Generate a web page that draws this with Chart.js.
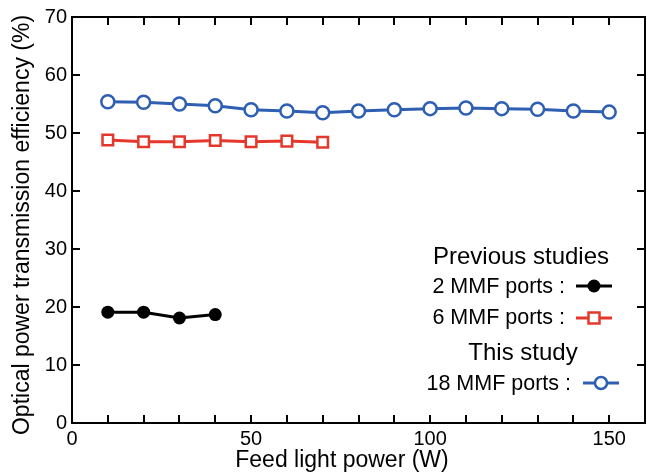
<!DOCTYPE html>
<html><head><meta charset="utf-8">
<script src="https://cdn.jsdelivr.net/npm/chart.js@4.4.1/dist/chart.umd.min.js"></script>
<style>html,body{margin:0;padding:0;background:#fff}#wrap{width:655px;height:472px}canvas{display:block}</style>
</head><body><div id="wrap"><canvas id="c" width="655" height="472"></canvas></div>
<script>
// ---- data ----
const powerTwoPorts = [10, 20, 30, 40];
const effTwoPorts = [19.1, 19.1, 18.1, 18.7];
const powerSixPorts = [10, 20, 30, 40, 50, 60, 70];
const effSixPorts = [48.8, 48.5, 48.5, 48.7, 48.5, 48.6, 48.4];
const powerEighteenPorts = [10, 20, 30, 40, 50, 60, 70, 80, 90, 100, 110, 120, 130, 140, 150];
const effEighteenPorts = [55.4, 55.3, 55.0, 54.7, 54.0, 53.8, 53.5, 53.8, 54.0, 54.2, 54.3, 54.2, 54.1, 53.8, 53.6];
const xLabelValues = [0, 50, 100, 150];
const yLabelValues = [0, 10, 20, 30, 40, 50, 60, 70];
const seriesNames = ['2 MMF ports :', '6 MMF ports :', '18 MMF ports :'];
const groupHeaders = ['Previous studies', 'This study'];
const xTitle = 'Feed light power (W)';
const yTitle = 'Optical power transmission efficiency (%)';

const BLUE = '#2e5fb2', RED = '#e5382c', BLACK = '#000000';
const FONT = '"Liberation Sans", Arial, sans-serif';

function pts(xs, ys) { return xs.map((x, i) => ({ x: x, y: ys[i] })); }

const frame = {
  id: 'frame',
  afterDraw(chart) {
    const ctx = chart.ctx, a = chart.chartArea;
    const xs = chart.scales.x, ys = chart.scales.y;
    ctx.save();
    ctx.strokeStyle = '#000'; ctx.lineWidth = 2;
    ctx.strokeRect(a.left, a.top, a.right - a.left, a.bottom - a.top);
    const L = 8;
    ctx.beginPath();
    xs.ticks.forEach(t => {
      const px = Math.round(xs.getPixelForValue(t.value));
      if (px <= a.left + 1 || px >= a.right - 1) return;
      ctx.moveTo(px, a.bottom); ctx.lineTo(px, a.bottom - L);
      ctx.moveTo(px, a.top); ctx.lineTo(px, a.top + L);
    });
    ys.ticks.forEach(t => {
      const py = Math.round(ys.getPixelForValue(t.value));
      if (py <= a.top + 1 || py >= a.bottom - 1) return;
      ctx.moveTo(a.left, py); ctx.lineTo(a.left + L, py);
      ctx.moveTo(a.right, py); ctx.lineTo(a.right - L, py);
    });
    ctx.stroke();

    // axis titles
    ctx.fillStyle = '#000';
    ctx.font = '23px ' + FONT;
    ctx.textAlign = 'center'; ctx.textBaseline = 'alphabetic';
    ctx.fillText(xTitle, 342, 467);
    ctx.save();
    ctx.translate(29, 225); ctx.rotate(-Math.PI / 2);
    ctx.fillText(yTitle, 0, 0);
    ctx.restore();

    // legend
    function marker(kind, cx, cy, color) {
      ctx.beginPath();
      ctx.strokeStyle = color; ctx.lineWidth = 3;
      ctx.moveTo(cx - 18, cy); ctx.lineTo(cx + 18, cy); ctx.stroke();
      ctx.lineWidth = 2.5;
      if (kind === 'dot') {
        ctx.beginPath(); ctx.arc(cx, cy, 6.5, 0, Math.PI * 2); ctx.fillStyle = color; ctx.fill();
      } else if (kind === 'sq') {
        ctx.fillStyle = '#fff'; ctx.fillRect(cx - 5.5, cy - 5.5, 11, 11); ctx.strokeRect(cx - 5.5, cy - 5.5, 11, 11);
      } else {
        ctx.beginPath(); ctx.arc(cx, cy, 6, 0, Math.PI * 2); ctx.fillStyle = '#fff'; ctx.fill(); ctx.stroke();
      }
    }
    ctx.fillStyle = '#000';
    ctx.textBaseline = 'middle';
    ctx.font = '24px ' + FONT; ctx.textAlign = 'center';
    ctx.fillText(groupHeaders[0], 521, 257);
    ctx.fillText(groupHeaders[1], 523, 353);
    ctx.font = '21.5px ' + FONT; ctx.textAlign = 'right';
    ctx.fillStyle = '#000'; ctx.fillText(seriesNames[0], 565, 287);
    ctx.fillStyle = '#000'; ctx.fillText(seriesNames[1], 565, 318);
    ctx.fillStyle = '#000'; ctx.fillText(seriesNames[2], 571, 384);
    marker('dot', 594, 286, BLACK);
    marker('sq', 594, 318, RED);
    marker('circ', 601, 383, BLUE);
    ctx.restore();
  }
};

new Chart(document.getElementById('c'), {
  type: 'scatter',
  data: {
    datasets: [
      { label: seriesNames[2], data: pts(powerEighteenPorts, effEighteenPorts), showLine: true,
        borderColor: BLUE, borderWidth: 3, pointStyle: 'circle', pointRadius: 6.5,
        pointBackgroundColor: '#fff', pointBorderColor: BLUE, pointBorderWidth: 2.5 },
      { label: seriesNames[1], data: pts(powerSixPorts, effSixPorts), showLine: true,
        borderColor: RED, borderWidth: 3, pointStyle: 'rect', pointRadius: 7.5,
        pointBackgroundColor: '#fff', pointBorderColor: RED, pointBorderWidth: 2.5 },
      { label: seriesNames[0], data: pts(powerTwoPorts, effTwoPorts), showLine: true,
        borderColor: BLACK, borderWidth: 3, pointStyle: 'circle', pointRadius: 6.5,
        pointBackgroundColor: BLACK, pointBorderColor: BLACK, pointBorderWidth: 0 }
    ]
  },
  options: {
    responsive: false, animation: false, devicePixelRatio: 1,
    layout: { padding: { left: 0, right: 8, top: 14, bottom: 0 } },
    plugins: { legend: { display: false }, tooltip: { enabled: false } },
    scales: {
      x: {
        type: 'linear', min: 0, max: 160,
        border: { display: false },
        grid: { display: false, drawTicks: false },
        ticks: { stepSize: 10, autoSkip: false, maxRotation: 0, padding: 4, color: '#000',
          font: { family: FONT, size: 20 },
          callback: v => xLabelValues.includes(v) ? String(v) : '' },
        afterFit: s => { s.height = 49; }
      },
      y: {
        type: 'linear', min: 0, max: 70,
        border: { display: false },
        grid: { display: false, drawTicks: false },
        ticks: { stepSize: 10, autoSkip: false, padding: 5, color: '#000',
          font: { family: FONT, size: 20 },
          callback: v => yLabelValues.includes(v) ? String(v) : '' },
        afterFit: s => { s.width = 72; }
      }
    }
  },
  plugins: [frame]
});
</script></body></html>
